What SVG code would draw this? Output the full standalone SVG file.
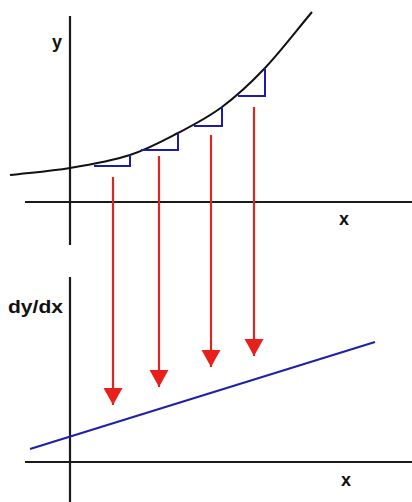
<svg xmlns="http://www.w3.org/2000/svg" width="412" height="502" viewBox="0 0 412 502">
<style>
.axis{stroke:#1a1a1a;stroke-width:2.2;fill:none}
.curve{stroke:#111;stroke-width:2;fill:none}
.tri{stroke:#1c1ca8;stroke-width:2;fill:none}
.arr{stroke:#d42a22;stroke-width:2.2;fill:none}
.lbl{font-family:"Liberation Sans",Arial,sans-serif;font-weight:bold;fill:#111}
</style>
<defs>
<marker id="ah" markerUnits="userSpaceOnUse" markerWidth="18" markerHeight="20" refX="17" refY="9.5" orient="auto" viewBox="0 0 18 20">
<path d="M0,0 L17,9.5 L0,19 z" fill="#e8201c"/>
</marker>
</defs>
<rect width="412" height="502" fill="#fff"/>
<g id="top-graph">
<line class="axis" x1="70" y1="16" x2="70" y2="245"/>
<line class="axis" x1="25" y1="202" x2="412" y2="202"/>
<text class="lbl" x="57" y="48" font-size="18" text-anchor="middle">y</text>
<text class="lbl" x="344" y="225" font-size="18" text-anchor="middle">x</text>
<path class="curve" d="M10,175 C30,172.7 50,171.3 70,168 C90,164.7 112,160.8 130,155 C148,149.2 162.7,141 178,133 C193.3,125 207.5,117.8 222,107 C236.5,96.2 250,83.8 265,68 C280,52.2 296.3,30.7 312,12"/>
<g id="triangles">
<polyline class="tri" points="94,166 130,166 130,155"/>
<polyline class="tri" points="141,150 178,150 178,133"/>
<polyline class="tri" points="194,126 222,126 222,107"/>
<polyline class="tri" points="238,96 265,96 265,68"/>
</g>
</g>
<g id="bottom-graph">
<line class="axis" x1="70" y1="277" x2="70" y2="502"/>
<line class="axis" x1="25" y1="462" x2="412" y2="462"/>
<text class="lbl" x="8" y="313" font-size="18" textLength="55" lengthAdjust="spacingAndGlyphs">dy/dx</text>
<text class="lbl" x="346" y="486" font-size="18" text-anchor="middle">x</text>
<line x1="30" y1="449" x2="375" y2="342" stroke="#2020a8" stroke-width="2.2"/>
</g>
<g id="connectors">
<line class="arr" x1="113" y1="177" x2="113" y2="405" marker-end="url(#ah)"/>
<line class="arr" x1="159" y1="156" x2="159" y2="387" marker-end="url(#ah)"/>
<line class="arr" x1="211" y1="135" x2="211" y2="367" marker-end="url(#ah)"/>
<line class="arr" x1="254" y1="107" x2="254" y2="356" marker-end="url(#ah)"/>
</g>
</svg>
